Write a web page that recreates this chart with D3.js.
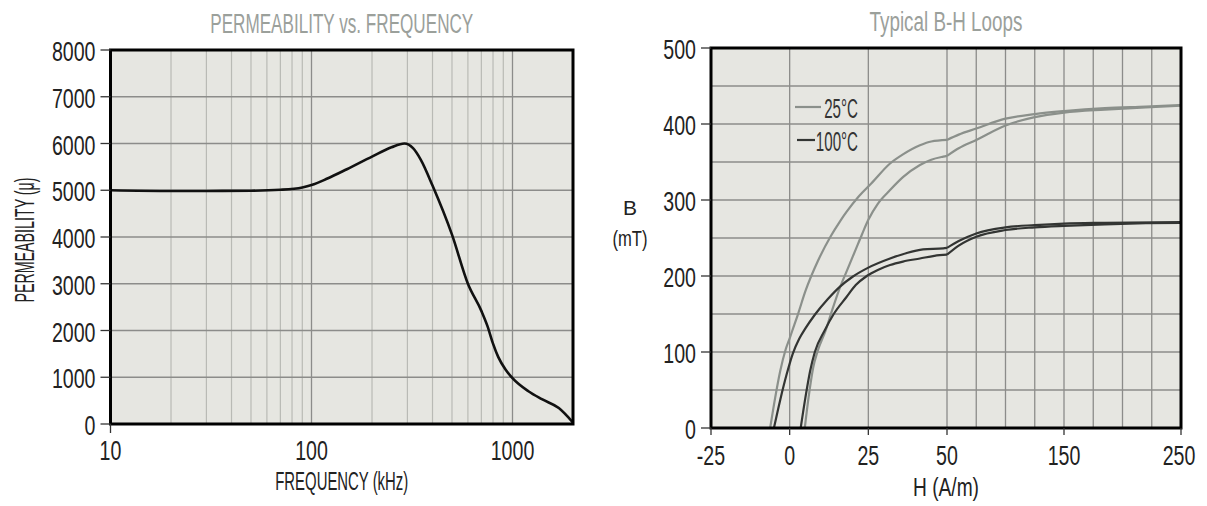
<!DOCTYPE html>
<html><head><meta charset="utf-8">
<script src="https://cdn.jsdelivr.net/npm/d3@7/dist/d3.min.js"></script>
<style>
body{margin:0;background:#fff;}
svg text{font-family:"Liberation Sans",Arial,sans-serif;}
</style></head><body><svg id="c" width="1207" height="506"></svg>
<script>
// ---------- data: permeability vs frequency ----------
const permFreq  = [10, 20, 30, 50, 70, 90, 100, 120, 150, 200, 250, 290, 320, 350, 400, 500, 600, 700, 750, 800, 850, 925, 1000, 1200, 1400, 1700, 2000];
const permValue = [5000, 4985, 4985, 4990, 5010, 5060, 5110, 5250, 5450, 5720, 5920, 6000, 5900, 5650, 5100, 4050, 3000, 2420, 2100, 1720, 1430, 1160, 980, 700, 530, 340, 30];
const permYTicks = [0, 1000, 2000, 3000, 4000, 5000, 6000, 7000, 8000];
const permXTicks = [10, 100, 1000];
const permMinorX = [20, 30, 40, 50, 60, 70, 80, 90, 200, 300, 400, 500, 600, 700, 800, 900];

// ---------- data: B-H loops ----------
const bhXTicks = [-25, 0, 25, 50, 150, 250];
const bhXGrid  = [0, 25, 50, 75, 100, 125, 150, 175, 200, 225];
const bhYTicks = [0, 100, 200, 300, 400, 500];
const bhYGrid  = [50, 100, 150, 200, 250, 300, 350, 400, 450];

const h25Up = [-6.2, -4.6, -3, -1.3, 0, 1, 2.5, 5, 9, 13, 16, 18, 22, 26, 31.9, 36, 41.4, 45, 50, 60, 75, 100, 125, 150, 185, 220, 250];
const b25Up = [0, 40, 75, 103, 118, 130, 148, 180, 220, 252, 272, 284, 305, 322, 348, 360, 372, 377, 379, 386, 394, 407, 413, 417, 421, 423, 425];
const h25Lo = [4.8, 6, 7.5, 8.8, 11.5, 13.5, 16, 18.5, 21, 23, 25, 28, 31.9, 36, 41.4, 45, 48.8, 50, 60, 75, 100, 125, 150, 185, 220, 250];
const b25Lo = [0, 40, 80, 100, 129, 155, 185, 210, 235, 255, 274, 295, 313, 330, 346, 353, 357, 358, 368, 379, 398, 409, 415, 419, 422, 424];
const h100Up = [-5, -3, -1, 1, 3, 5, 8, 12, 16, 20, 25, 31.9, 37, 42.4, 48.8, 50, 60, 75, 100, 125, 150, 185, 250];
const b100Up = [0, 37, 70, 98, 117, 131, 149, 169, 186, 199, 211, 223, 230, 235, 236.4, 237, 246, 256, 264, 267, 269, 270, 271];
const h100Lo = [3.5, 5, 6.5, 8, 11.2, 14, 18, 21, 24.5, 28, 31.9, 36, 41.4, 46, 50, 60, 75, 100, 125, 150, 185, 220, 250];
const b100Lo = [0, 40, 75, 100, 129, 150, 172, 188, 200, 208, 214.5, 219, 223, 226.5, 228, 240, 251.7, 260.5, 264, 266, 268, 269.5, 270];

const legendLabels = ["25°C", "100°C"];

// ---------- drawing ----------
const svg = d3.select("#c");
const BG = "#e6e6e1", GRID = "#8c8c8a", GRID_MINOR = "#b9bab5", TXT = "#222";
const FS = 28, K = 0.7;
function fixLen(sel, w) {
  return sel.attr("textLength", w).attr("lengthAdjust", "spacingAndGlyphs");
}
// condensed label: positioned by transform, squeezed horizontally
function labels(g, data, fx, fy, anchor, size, k, fill) {
  return g.selectAll(null).data(data).join("text")
    .attr("transform", d => `translate(${fx(d)},${fy(d)}) scale(${k},1)`)
    .attr("text-anchor", anchor).attr("font-size", size).attr("fill", fill).text(d => d);
}

// ===== left chart =====
const L = {x0: 110.5, x1: 573, y0: 50, y1: 424};
const xL = d3.scaleLog().domain([10, 2000]).range([L.x0, L.x1]);
const yL = d3.scaleLinear().domain([0, 8000]).range([L.y1, L.y0]);
const gL = svg.append("g");
gL.append("rect").attr("x", L.x0).attr("y", L.y0).attr("width", L.x1 - L.x0).attr("height", L.y1 - L.y0).attr("fill", BG);
gL.selectAll(".mx").data(permMinorX).join("line")
  .attr("x1", d => xL(d)).attr("x2", d => xL(d)).attr("y1", L.y0).attr("y2", L.y1)
  .attr("stroke", GRID_MINOR).attr("stroke-width", 1.2);
gL.selectAll(".Mx").data(permXTicks.slice(1)).join("line")
  .attr("x1", d => xL(d)).attr("x2", d => xL(d)).attr("y1", L.y0).attr("y2", L.y1)
  .attr("stroke", GRID).attr("stroke-width", 1.3);
gL.selectAll(".gy").data(permYTicks.slice(1, -1)).join("line")
  .attr("x1", L.x0).attr("x2", L.x1).attr("y1", d => yL(d)).attr("y2", d => yL(d))
  .attr("stroke", GRID).attr("stroke-width", 1.3);
gL.append("path").datum(permFreq.map((f, i) => [f, permValue[i]]))
  .attr("fill", "none").attr("stroke", "#111").attr("stroke-width", 2.6)
  .attr("d", d3.line().x(d => xL(d[0])).y(d => yL(d[1])).curve(d3.curveMonotoneX));
gL.append("rect").attr("x", L.x0).attr("y", L.y0).attr("width", L.x1 - L.x0).attr("height", L.y1 - L.y0)
  .attr("fill", "none").attr("stroke", "#000").attr("stroke-width", 3);
gL.selectAll(".yt").data(permYTicks).join("line")
  .attr("x1", L.x0 - 10).attr("x2", L.x0).attr("y1", d => yL(d)).attr("y2", d => yL(d))
  .attr("stroke", "#333").attr("stroke-width", 1.3);
labels(gL, permYTicks, () => L.x0 - 15, d => yL(d) + 11, "end", FS, K, TXT);
gL.append("line").attr("x1", L.x0).attr("x2", L.x0).attr("y1", L.y1).attr("y2", L.y1 + 9).attr("stroke", "#333").attr("stroke-width", 1.3);
labels(gL, permXTicks, d => xL(d), () => 460, "middle", FS, K, TXT);
fixLen(gL.append("text").attr("x", (L.x0 + L.x1) / 2).attr("y", 33).attr("text-anchor", "middle")
  .attr("font-size", 27).attr("fill", "#9ba09b").text("PERMEABILITY vs. FREQUENCY"), 263);
fixLen(gL.append("text").attr("x", (L.x0 + L.x1) / 2).attr("y", 490).attr("text-anchor", "middle")
  .attr("font-size", 25).attr("fill", TXT).text("FREQUENCY (kHz)"), 133);
fixLen(gL.append("text").attr("transform", "translate(34,240) rotate(-90)").attr("text-anchor", "middle")
  .attr("font-size", 27).attr("fill", TXT).text("PERMEABILITY (μ)"), 125);

// ===== right chart =====
const R = {x0: 711, xm: 947, x1: 1181, y0: 48, y1: 428};
const xR = d3.scaleLinear().domain([-25, 50, 250]).range([R.x0, R.xm, R.x1]);
const yR = d3.scaleLinear().domain([0, 500]).range([R.y1, R.y0]);
const gR = svg.append("g");
gR.append("rect").attr("x", R.x0).attr("y", R.y0).attr("width", R.x1 - R.x0).attr("height", R.y1 - R.y0).attr("fill", BG);
gR.selectAll(".gx").data(bhXGrid).join("line")
  .attr("x1", d => xR(d)).attr("x2", d => xR(d)).attr("y1", R.y0).attr("y2", R.y1)
  .attr("stroke", GRID).attr("stroke-width", 1.3);
gR.selectAll(".gy").data(bhYGrid).join("line")
  .attr("x1", R.x0).attr("x2", R.x1).attr("y1", d => yR(d)).attr("y2", d => yR(d))
  .attr("stroke", GRID).attr("stroke-width", 1.3);

const series = [
  {h: h25Up, b: b25Up, c: "#8b908b"},
  {h: h25Lo, b: b25Lo, c: "#8b908b"},
  {h: h100Up, b: b100Up, c: "#333533"},
  {h: h100Lo, b: b100Lo, c: "#333533"}
];
const lineR = d3.line().x(d => xR(d[0])).y(d => yR(d[1])).curve(d3.curveMonotoneX);
series.forEach(s => {
  const pts = s.h.map((h, i) => [h, s.b[i]]);
  const a = pts.filter(p => p[0] <= 50), b = pts.filter(p => p[0] >= 50);
  [a, b].forEach(seg => gR.append("path").datum(seg).attr("fill", "none")
    .attr("stroke", s.c).attr("stroke-width", 2.2).attr("d", lineR));
});
gR.append("rect").attr("x", R.x0).attr("y", R.y0).attr("width", R.x1 - R.x0).attr("height", R.y1 - R.y0)
  .attr("fill", "none").attr("stroke", "#000").attr("stroke-width", 3);
gR.selectAll(".yt").data(bhYTicks).join("line")
  .attr("x1", R.x0 - 10).attr("x2", R.x0).attr("y1", d => yR(d)).attr("y2", d => yR(d))
  .attr("stroke", "#333").attr("stroke-width", 1.3);
labels(gR, bhYTicks, () => R.x0 - 15, d => yR(d) + 11, "end", FS, K, TXT);
gR.selectAll(".xt").data(bhXTicks).join("line")
  .attr("x1", d => xR(d)).attr("x2", d => xR(d)).attr("y1", R.y1).attr("y2", R.y1 + 7)
  .attr("stroke", "#333").attr("stroke-width", 1.3);
labels(gR, bhXTicks, d => xR(d) - (d === 250 ? 2 : 0), () => 465, "middle", FS, K, TXT);
fixLen(gR.append("text").attr("x", (R.x0 + R.x1) / 2).attr("y", 31).attr("text-anchor", "middle")
  .attr("font-size", 27).attr("fill", "#9ba09b").text("Typical B-H Loops"), 153);
fixLen(gR.append("text").attr("x", (R.x0 + R.x1) / 2).attr("y", 496).attr("text-anchor", "middle")
  .attr("font-size", 25).attr("fill", TXT).text("H (A/m)"), 66);
gR.append("text").attr("x", 630).attr("y", 215).attr("text-anchor", "middle")
  .attr("font-size", 21).attr("fill", TXT).text("B");
fixLen(gR.append("text").attr("x", 630).attr("y", 246).attr("text-anchor", "middle")
  .attr("font-size", 22).attr("fill", TXT).text("(mT)"), 35);
// legend
const legY = [107, 140], legX1 = [795, 797], legX2 = [821, 815], legC = ["#8b908b", "#333533"];
legendLabels.forEach((t, i) => {
  gR.append("line").attr("x1", legX1[i]).attr("x2", legX2[i]).attr("y1", legY[i]).attr("y2", legY[i])
    .attr("stroke", legC[i]).attr("stroke-width", 2.2);
  gR.append("text").attr("transform", `translate(858,${legY[i] + 11}) scale(0.56,1)`).attr("text-anchor", "end")
    .attr("font-size", 27).attr("fill", "#333").text(t);
});
</script></body></html>
